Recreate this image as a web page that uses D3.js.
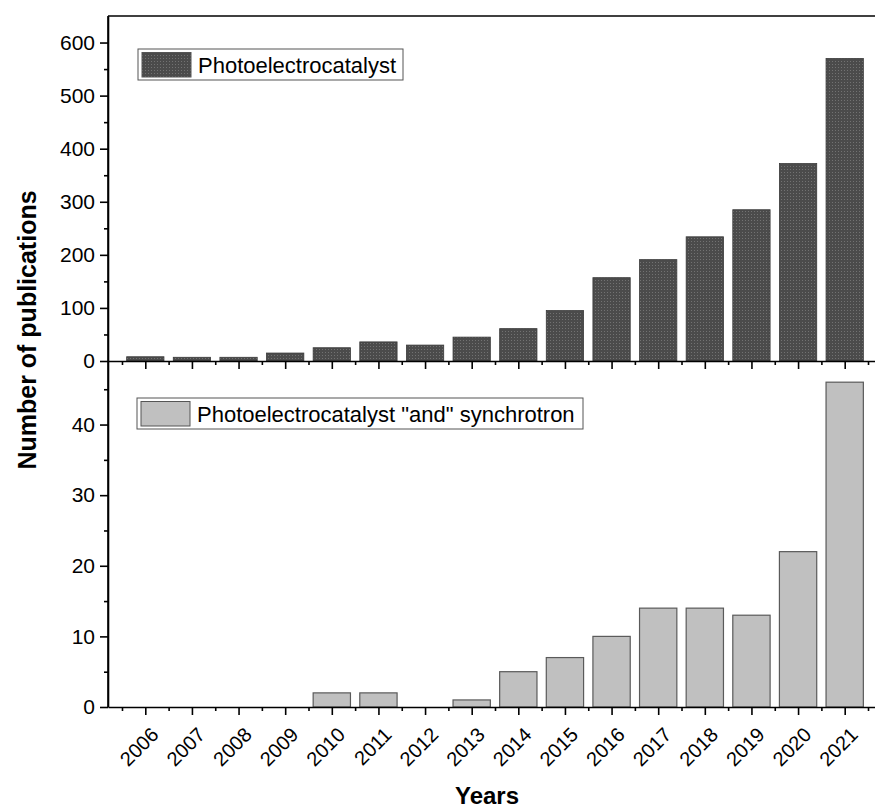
<!DOCTYPE html>
<html>
<head>
<meta charset="utf-8">
<script src="https://cdn.jsdelivr.net/npm/d3@7/dist/d3.min.js"></script>
<style>
  html, body { margin: 0; padding: 0; background: #fff; }
  svg { display: block; font-family: "Liberation Sans", Arial, sans-serif; }
</style>
</head>
<body>
<svg id="chart" width="875" height="809"></svg>
<script>
// Publication counts per year
const years = [2006, 2007, 2008, 2009, 2010, 2011, 2012, 2013, 2014, 2015, 2016, 2017, 2018, 2019, 2020, 2021];
const photoelectrocatalyst = [8, 7, 7, 15, 25, 36, 30, 45, 61, 95, 157, 191, 234, 285, 372, 570];
const withSynchrotron = [0, 0, 0, 0, 2, 2, 0, 1, 5, 7, 10, 14, 14, 13, 22, 46];
const topTicks = [0, 100, 200, 300, 400, 500, 600];
const bottomTicks = [0, 10, 20, 30, 40];
const legendTop = "Photoelectrocatalyst";
const legendBottom = "Photoelectrocatalyst \"and\" synchrotron";

const svg = d3.select("#chart");
const left = 108, right = 882;
const topY = 16, midY = 361, bottomY = 707;

const x = d3.scaleLinear().domain([2005.2, 2021.8]).range([left, right]);
const step = x(2007) - x(2006);
const barW = step * 0.8;

const yTop = d3.scaleLinear().domain([0, 650]).range([midY, topY]);
const yBot = d3.scaleLinear().domain([0, 49]).range([bottomY, midY]);

// Stipple pattern for the dark bars
const defs = svg.append("defs");
const pat = defs.append("pattern").attr("id", "stipple")
  .attr("patternUnits", "userSpaceOnUse").attr("width", 3).attr("height", 3);
pat.append("rect").attr("width", 3).attr("height", 3).attr("fill", "#4b4b4b");
pat.append("rect").attr("x", 1).attr("y", 1).attr("width", 1).attr("height", 1).attr("fill", "#727272");

// Bars: upper panel
svg.append("g").selectAll("rect").data(years).join("rect")
  .attr("x", (d) => x(d) - barW / 2)
  .attr("y", (d, i) => yTop(photoelectrocatalyst[i]))
  .attr("width", barW)
  .attr("height", (d, i) => yTop(0) - yTop(photoelectrocatalyst[i]))
  .attr("fill", "url(#stipple)")
  .attr("stroke", "#3a3a3a").attr("stroke-width", 0.8);

// Bars: lower panel
svg.append("g").selectAll("rect").data(years).join("rect")
  .attr("x", (d) => x(d) - barW / 2)
  .attr("y", (d, i) => yBot(withSynchrotron[i]))
  .attr("width", barW)
  .attr("height", (d, i) => yBot(0) - yBot(withSynchrotron[i]))
  .attr("fill", "#c0c0c0")
  .attr("stroke", "#5a5a5a").attr("stroke-width", 1.2);

// Axes helpers
function styleAxis(g) {
  g.selectAll("path.domain").attr("stroke", "#000").attr("stroke-width", 1.6);
  g.selectAll(".tick line").attr("stroke", "#000").attr("stroke-width", 1.6);
  g.selectAll("text").attr("fill", "#000");
}

// Year axes (major + minor) for both panels
[midY, bottomY].forEach((yy, idx) => {
  const minor = svg.append("g").attr("transform", `translate(0,${yy})`)
    .call(d3.axisBottom(x).tickValues(d3.range(2005.5, 2022, 1)).tickSize(4).tickFormat("").tickSizeOuter(0));
  styleAxis(minor);
  minor.select("path.domain").remove();
  const major = svg.append("g").attr("transform", `translate(0,${yy})`)
    .call(d3.axisBottom(x).tickValues(years).tickSize(8).tickSizeOuter(0)
      .tickFormat(idx === 1 ? d3.format("d") : ""));
  styleAxis(major);
  if (idx === 1) {
    major.selectAll("text")
      .attr("font-size", 20)
      .attr("text-anchor", "end")
      .attr("dy", null).attr("y", null)
      .attr("transform", "translate(14,29) rotate(-45)");
  }
});

// Value axes
function valueAxis(scale, ticks, minorStep) {
  const minorVals = d3.range(minorStep, scale.domain()[1], minorStep * 2);
  const m = svg.append("g").attr("transform", `translate(${left},0)`)
    .call(d3.axisLeft(scale).tickValues(minorVals).tickSize(4).tickFormat("").tickSizeOuter(0));
  styleAxis(m);
  m.select("path.domain").remove();
  const a = svg.append("g").attr("transform", `translate(${left},0)`)
    .call(d3.axisLeft(scale).tickValues(ticks).tickSize(8).tickPadding(5).tickSizeOuter(0).tickFormat(d3.format("d")));
  styleAxis(a);
  a.selectAll("text").attr("font-size", 21);
}
valueAxis(yTop, topTicks, 50);
valueAxis(yBot, bottomTicks, 5);

// Frame top line
svg.append("line").attr("x1", left).attr("x2", 875).attr("y1", topY).attr("y2", topY)
  .attr("stroke", "#000").attr("stroke-width", 1.6);
// Left axis spine across both panels
svg.append("line").attr("x1", left).attr("x2", left).attr("y1", topY).attr("y2", bottomY)
  .attr("stroke", "#000").attr("stroke-width", 1.6);

// Legends
function legend(bx, by, bw, fill, label) {
  const g = svg.append("g");
  g.append("rect").attr("x", bx).attr("y", by).attr("width", bw).attr("height", 31)
    .attr("fill", "#fff").attr("stroke", "#555").attr("stroke-width", 1);
  g.append("rect").attr("x", bx + 4).attr("y", by + 3.5).attr("width", 49).attr("height", 24.5)
    .attr("fill", fill).attr("stroke", "#555").attr("stroke-width", 1);
  g.append("text").attr("x", bx + 60).attr("y", by + 23.5)
    .attr("font-size", 22).attr("fill", "#000").text(label);
}
legend(138, 49, 265, "url(#stipple)", legendTop);
legend(137, 398, 446, "#c0c0c0", legendBottom);

// Axis titles
svg.append("text")
  .attr("transform", "translate(36,330) rotate(-90)")
  .attr("text-anchor", "middle").attr("font-size", 25).attr("font-weight", "bold")
  .text("Number of publications");
svg.append("text")
  .attr("x", 487).attr("y", 804)
  .attr("text-anchor", "middle").attr("font-size", 24).attr("font-weight", "bold")
  .text("Years");
</script>
</body>
</html>
